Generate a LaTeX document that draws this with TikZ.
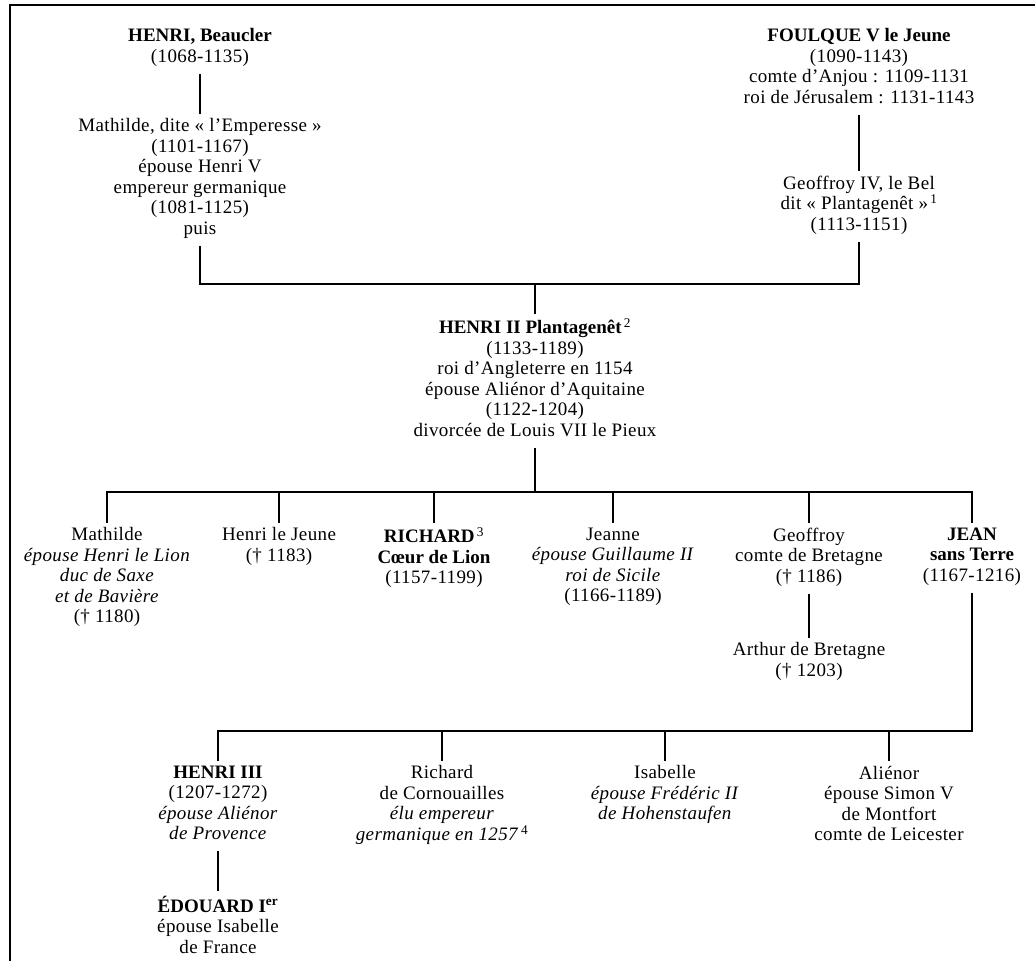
\documentclass[tikz,border=0pt]{standalone}
\usepackage{fontspec}
\setmainfont{Liberation Serif}[LetterSpace=2,BoldFeatures={LetterSpace=0}]
\begin{document}
\begin{tikzpicture}[x=1pt,y=-1pt,
  person/.style={anchor=north, align=center, inner xsep=0pt, inner ysep=5pt,
    font=\fontsize{19}{20.5}\selectfont,
    execute at begin node=\strut, execute at end node=\strut},
  link/.style={draw=black, line width=2.1pt},
  frame/.style={draw=black, line width=1.6pt}]
\useasboundingbox (0,0) rectangle (1035,961);
\draw[frame] (10,961) -- (10,5) -- (1035,5);

% generation 1
\node[person] (beaucler) at (200,23.6) {\textbf{HENRI, Beaucler}\\(1068-1135)};
\node[person] (mathilde) at (200,113.6) {Mathilde, dite « l’Emperesse »\\(1101-1167)\\épouse Henri V\\empereur germanique\\(1081-1125)\\puis};
\node[person] (foulque) at (859,23.6) {\textbf{FOULQUE V le Jeune}\\(1090-1143)\\comte d’Anjou : 1109-1131\\roi de Jérusalem : 1131-1143};
\node[person] (geoffroy4) at (859,170.6) {Geoffroy IV, le Bel\\dit « Plantagenêt »\textsuperscript{\,1}\\(1113-1151)};
\coordinate (j1) at (535,284);
\node[person] (henri2) at (535,313.6) {\textbf{HENRI II Plantagenêt}\textsuperscript{\,2}\\(1133-1189)\\roi d’Angleterre en 1154\\épouse Aliénor d’Aquitaine\\(1122-1204)\\divorcée de Louis VII le Pieux};

% children
\coordinate (bar1) at (535,492);
\node[person] (mathilde2) at (107,522.6) {Mathilde\\\textit{épouse Henri le Lion}\\\textit{duc de Saxe}\\\textit{et de Bavière}\\(† 1180)};
\node[person] (henrij) at (279,522.6) {Henri le Jeune\\(† 1183)};
\node[person] (richard) at (434,522.6) {\textbf{RICHARD}\textsuperscript{\,3}\\\textbf{Cœur de Lion}\\(1157-1199)};
\node[person] (jeanne) at (613,522.6) {Jeanne\\\textit{épouse Guillaume II}\\\textit{roi de Sicile}\\(1166-1189)};
\node[person] (geoffroy) at (809,522.6) {Geoffroy\\comte de Bretagne\\(† 1186)};
\node[person] (jean) at (972,522.6) {\textbf{JEAN}\\\textbf{sans Terre}\\(1167-1216)};
\node[person] (arthur) at (809,637.6) {Arthur de Bretagne\\(† 1203)};

% grandchildren
\coordinate (bar2) at (600,731);
\node[person] (henri3) at (218,760.6) {\textbf{HENRI III}\\(1207-1272)\\\textit{épouse Aliénor}\\\textit{de Provence}};
\node[person] (richardc) at (442,760.6) {Richard\\de Cornouailles\\\textit{élu empereur}\\\textit{germanique en 1257}\textsuperscript{\,4}};
\node[person] (isabelle) at (665,760.6) {Isabelle\\\textit{épouse Frédéric II}\\\textit{de Hohenstaufen}};
\node[person] (alienor) at (889,760.6) {Aliénor\\épouse Simon V\\de Montfort\\comte de Leicester};
\node[person] (edouard) at (218,890.6) {\textbf{ÉDOUARD I\textsuperscript{er}}\\épouse Isabelle\\de France};

% connectors
\draw[link] (beaucler.south) -- (mathilde.north);
\draw[link] (foulque.south) -- (geoffroy4.north);
\draw[link] (mathilde.south) |- (j1) -| (geoffroy4.south);
\draw[link] (j1) -- (henri2.north);
\draw[link] (henri2.south) -- (bar1);
\draw[link] (mathilde2.north) |- (bar1) -| (jean.north);
\foreach \n in {henrij,richard,jeanne,geoffroy}
  \draw[link] (\n.north) -- (\n.north |- bar1);
\draw[link] (geoffroy.south) -- (arthur.north);
\draw[link] (jean.south) |- (bar2) -| (henri3.north);
\foreach \n in {richardc,isabelle,alienor}
  \draw[link] (\n.north) -- (\n.north |- bar2);
\draw[link] (henri3.south) -- (edouard.north);
\end{tikzpicture}
\end{document}
